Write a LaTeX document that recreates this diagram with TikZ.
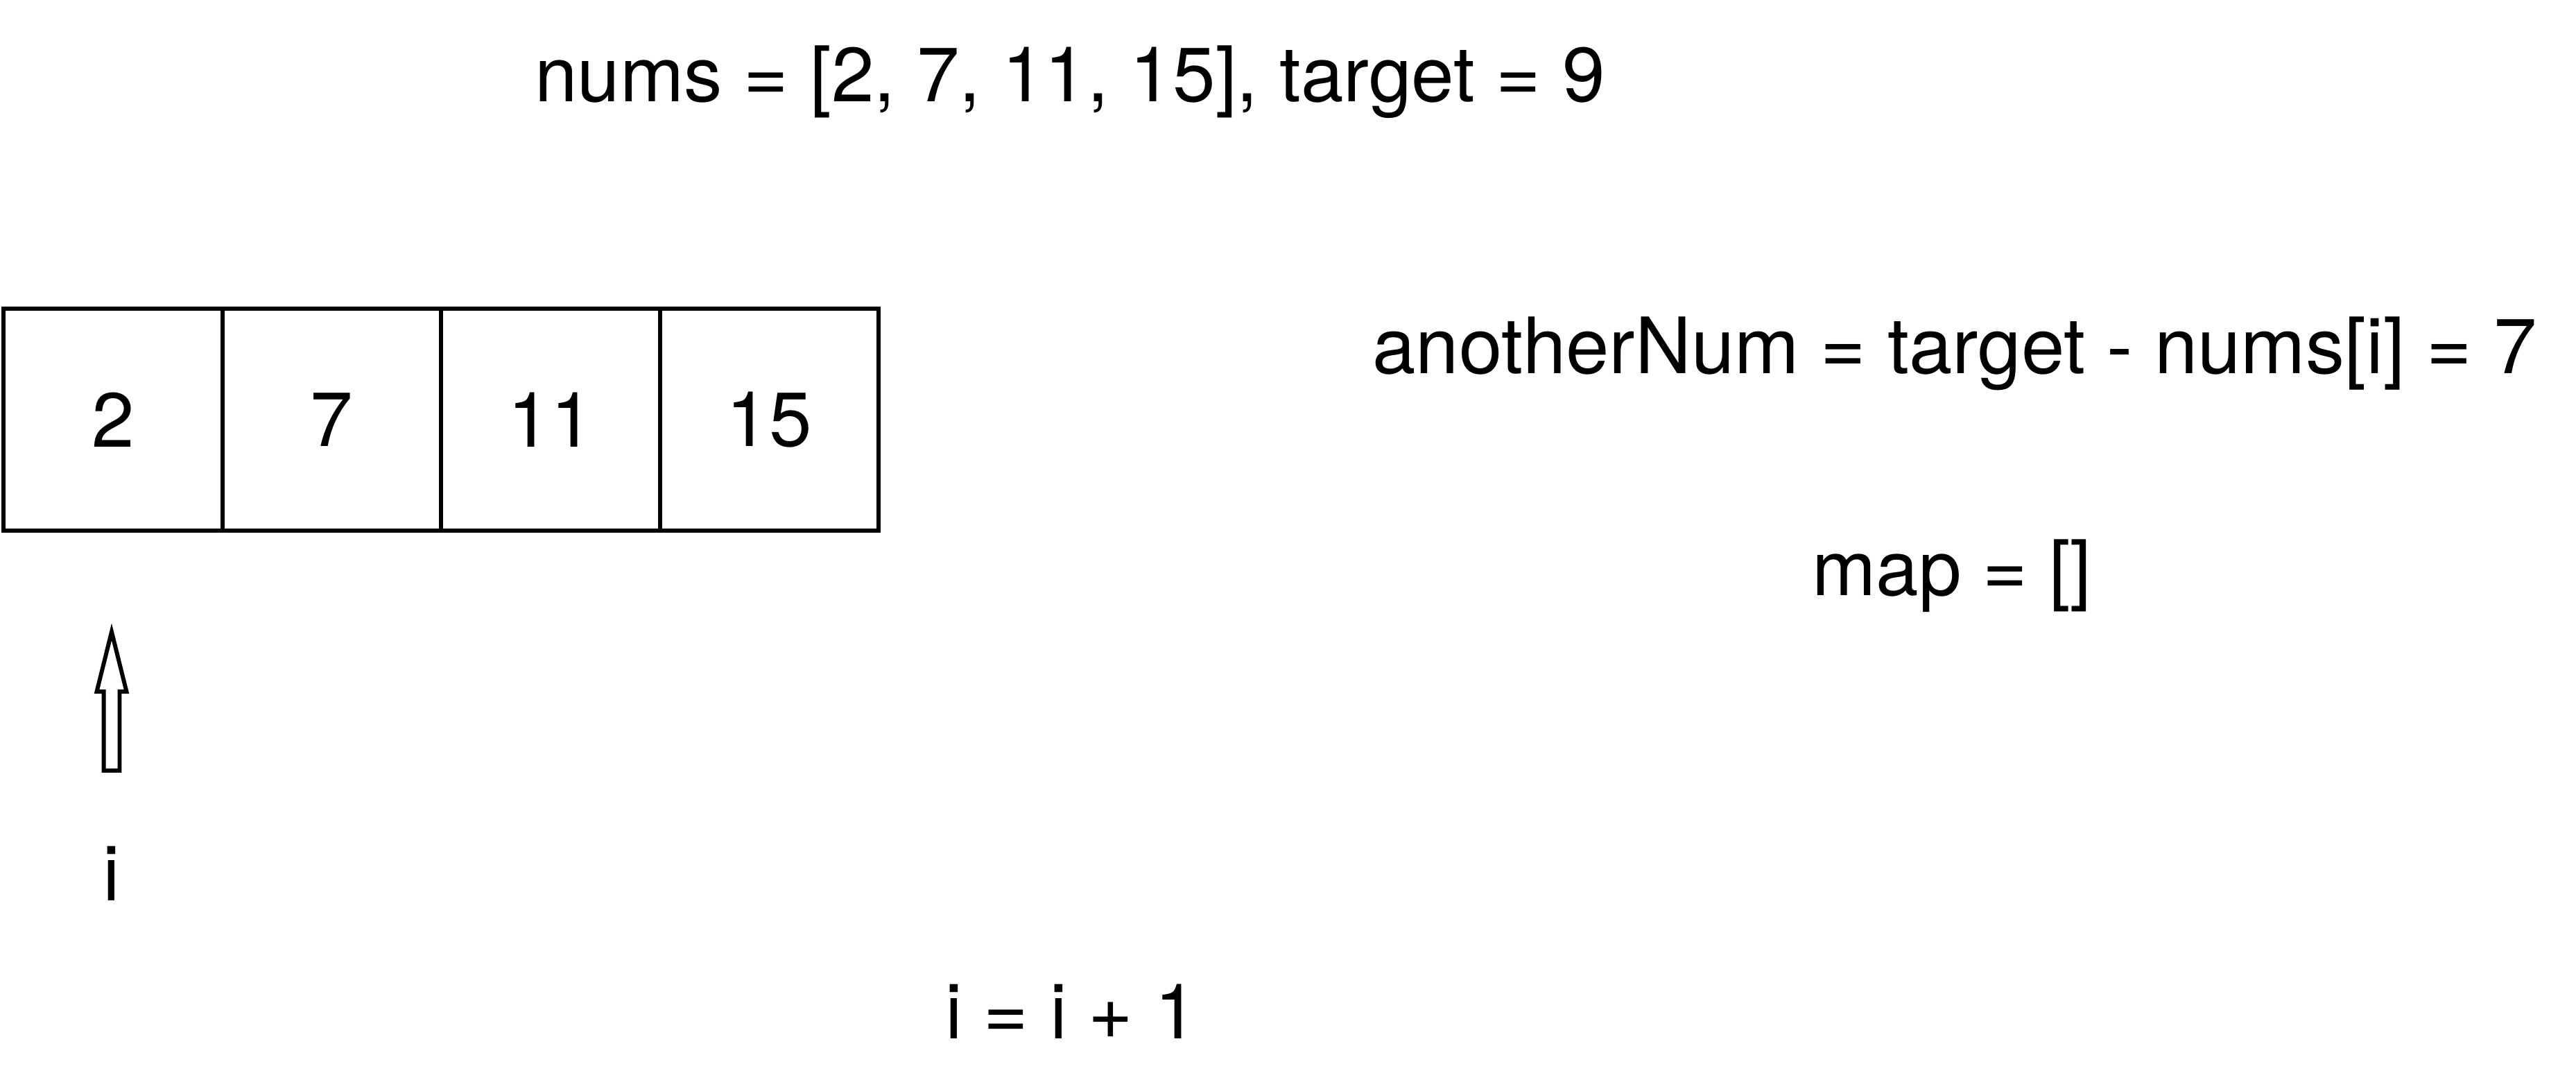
\documentclass[tikz,border=0pt]{standalone}
\usepackage{fontspec}
\setmainfont{TeX Gyre Heros}
\usetikzlibrary{positioning, shapes.arrows}
\newcommand{\bigtxt}{\fontsize{31.5}{38}\selectfont}
\tikzset{
  cell/.style={rectangle, draw=black, line width=1.7pt, outer sep=0pt, inner sep=0pt,
               minimum width=3.155cm, minimum height=3.2cm, font=\bigtxt},
  note/.style={font=\bigtxt, inner sep=0pt, anchor=base},
  ptr/.style={single arrow, draw=black, fill=white, line width=1.7pt, rotate=90,
              minimum height=2cm, minimum width=0.37cm, inner sep=0.085cm,
              single arrow head extend=0.1cm, single arrow tip angle=28},
}

\begin{document}
\begin{tikzpicture}[node distance=0cm]
  \useasboundingbox (0,0) rectangle (37.15,15.69);

  \node[note] (input) at (15.43,14.22) {nums = [2, 7, 11, 15], target = 9};

  % array cells
  \node[cell] (c1) at (1.63,9.64) {2};
  \node[cell, right=of c1] (c2) {7};
  \node[cell, right=of c2] (c3) {11};
  \node[cell, right=of c3] (c4) {15};

  % pointer i
  \node[ptr] (ptr) at (1.61,5.35) {};
  \node[note] (ilab) at (1.61,2.71) {i};

  \node[note, font=\fontsize{31.9}{38}\selectfont] (another) at (28.19,10.31) {anotherNum = target - nums[i] = 7};
  \node[note] (map) at (28.15,7.11) {map = []};
  \node[note] (step) at (15.45,0.72) {i = i + 1};
\end{tikzpicture}
\end{document}
